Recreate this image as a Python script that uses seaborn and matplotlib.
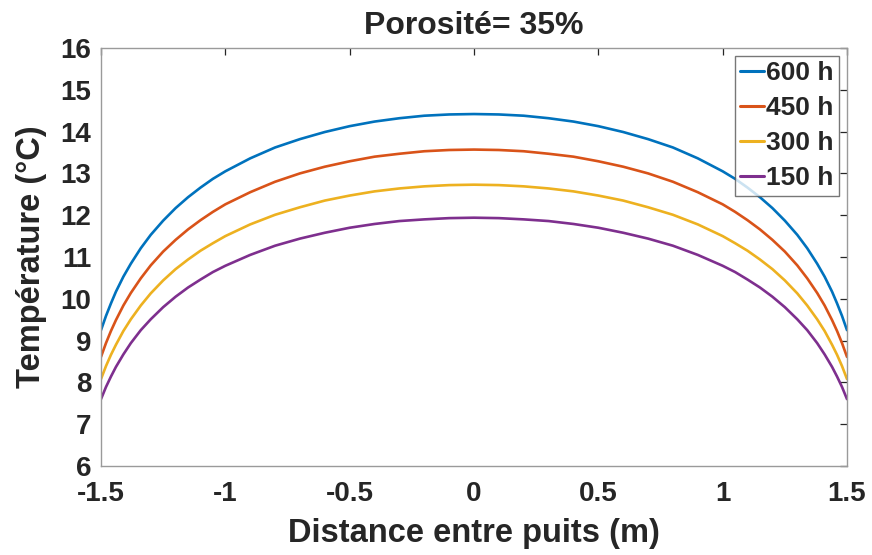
import matplotlib
matplotlib.use("Agg")
import matplotlib.pyplot as plt
import seaborn as sns
import pandas as pd

# Distance between wells (m)
distance = [-1.5, -1.48, -1.46, -1.44, -1.41, -1.38, -1.34, -1.3, -1.25, -1.2, -1.15,
            -1.1, -1.05, -1.0, -0.9, -0.8, -0.7, -0.6, -0.5, -0.4, -0.3, -0.2, -0.1,
            0.0,
            0.1, 0.2, 0.3, 0.4, 0.5, 0.6, 0.7, 0.8, 0.9, 1.0, 1.05, 1.1,
            1.15, 1.2, 1.25, 1.3, 1.34, 1.38, 1.41, 1.44, 1.46, 1.48, 1.5]

# Temperature profiles (°C) for each duration
temp_600h = [9.25, 9.59, 9.89, 10.17, 10.53, 10.84, 11.21, 11.53, 11.87, 12.17, 12.43,
             12.66, 12.87, 13.05, 13.36, 13.62, 13.82, 13.99, 14.13, 14.24, 14.32, 14.38, 14.41,
             14.42,
             14.41, 14.38, 14.32, 14.24, 14.13, 13.99, 13.82, 13.62, 13.36, 13.05, 12.87, 12.66,
             12.43, 12.17, 11.87, 11.53, 11.21, 10.84, 10.53, 10.17, 9.89, 9.59, 9.25]
temp_450h = [8.61, 8.94, 9.23, 9.49, 9.84, 10.14, 10.49, 10.80, 11.13, 11.41, 11.66,
             11.88, 12.08, 12.26, 12.55, 12.80, 13.00, 13.16, 13.29, 13.40, 13.47, 13.53, 13.56,
             13.57,
             13.56, 13.53, 13.47, 13.40, 13.29, 13.16, 13.00, 12.80, 12.55, 12.26, 12.08, 11.88,
             11.66, 11.41, 11.13, 10.80, 10.49, 10.14, 9.84, 9.49, 9.23, 8.94, 8.61]
temp_300h = [8.08, 8.39, 8.66, 8.90, 9.23, 9.51, 9.84, 10.13, 10.44, 10.71, 10.94,
             11.15, 11.33, 11.50, 11.78, 12.01, 12.19, 12.35, 12.47, 12.57, 12.64, 12.69, 12.72,
             12.73,
             12.72, 12.69, 12.64, 12.57, 12.47, 12.35, 12.19, 12.01, 11.78, 11.50, 11.33, 11.15,
             10.94, 10.71, 10.44, 10.13, 9.84, 9.51, 9.23, 8.90, 8.66, 8.39, 8.08]
temp_150h = [7.60, 7.89, 8.14, 8.37, 8.67, 8.94, 9.25, 9.51, 9.80, 10.05, 10.27,
             10.46, 10.64, 10.79, 11.05, 11.27, 11.44, 11.58, 11.70, 11.79, 11.86, 11.90, 11.93,
             11.94,
             11.93, 11.90, 11.86, 11.79, 11.70, 11.58, 11.44, 11.27, 11.05, 10.79, 10.64, 10.46,
             10.27, 10.05, 9.80, 9.51, 9.25, 8.94, 8.67, 8.37, 8.14, 7.89, 7.60]

series_labels = ["600 h", "450 h", "300 h", "150 h"]
series_colors = ["#0072BD", "#D95319", "#EDB120", "#7E2F8E"]
x_ticks = [-1.5, -1, -0.5, 0, 0.5, 1, 1.5]
x_tick_labels = ["-1.5", "-1", "-0.5", "0", "0.5", "1", "1.5"]
y_ticks = list(range(6, 17))

frames = []
for label, vals in zip(series_labels, [temp_600h, temp_450h, temp_300h, temp_150h]):
    frames.append(pd.DataFrame({"x": distance, "T": vals, "serie": label}))
df = pd.concat(frames, ignore_index=True)

sns.set_theme(style="white")
plt.rcParams["font.family"] = ["Liberation Sans", "DejaVu Sans"]
plt.rcParams["font.weight"] = "bold"

fig = plt.figure(figsize=(8.72, 5.55), dpi=100)
ax = fig.add_axes([101 / 872, 1 - 466 / 555, 746 / 872, 418 / 555])

sns.lineplot(data=df, x="x", y="T", hue="serie", hue_order=series_labels,
             palette=series_colors, linewidth=1.9, sort=False, ax=ax,
             estimator=None)

ax.set_xlim(-1.5, 1.5)
ax.set_ylim(6, 16)
ax.set_xticks(x_ticks)
ax.set_xticklabels(x_tick_labels)
ax.set_yticks(y_ticks)
ax.tick_params(direction="in", length=5, width=0.9, colors="#262626",
               labelsize=20, top=True, right=True)
ax.tick_params(axis="y", pad=7)
ax.tick_params(axis="x", pad=11)
for lab in ax.get_xticklabels() + ax.get_yticklabels():
    lab.set_fontweight("bold")
for sp in ax.spines.values():
    sp.set_color("#9a9a9a")
    sp.set_linewidth(1.0)

ax.set_xlabel("Distance entre puits (m)", fontsize=23.5, fontweight="bold",
              color="#262626", labelpad=8)
ax.set_ylabel("Température (°C)", fontsize=23.5, fontweight="bold",
              color="#262626", labelpad=10)
ax.set_title("Porosité= 35%", fontsize=23, fontweight="bold", pad=10)

leg = ax.legend(loc="upper right", fontsize=19, frameon=True, fancybox=False,
                handlelength=0.92, handletextpad=0.08, labelspacing=0.42,
                borderpad=0.2, borderaxespad=0.3, title=None)
leg._legend_box.sep = 2
frame = leg.get_frame()
frame.set_edgecolor("#555555")
frame.set_linewidth(1.0)
for t in leg.get_texts():
    t.set_fontweight("bold")
for h in leg.get_lines():
    h.set_linewidth(2.2)

fig.savefig("out.png", dpi=100)
